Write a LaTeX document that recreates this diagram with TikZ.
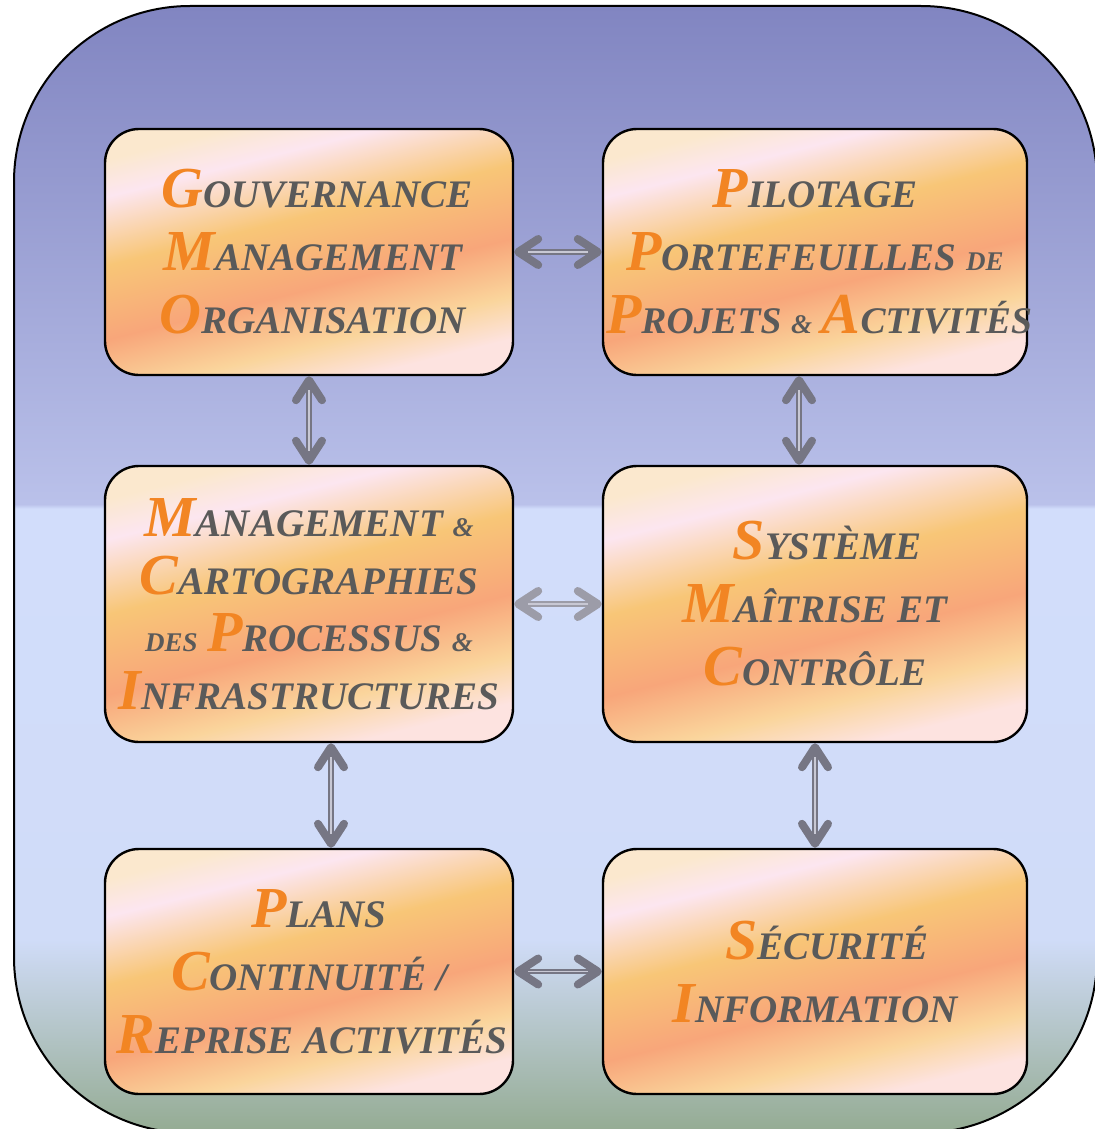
\documentclass[tikz,border=0pt]{standalone}
\usepackage{fontspec}
\setmainfont{Liberation Serif}
\usetikzlibrary{arrows.meta,calc}
\definecolor{corange}{HTML}{F28523}
\definecolor{cgray}{HTML}{5A5A5A}
\definecolor{oc1}{HTML}{94AB92}
\definecolor{oc2}{HTML}{D0DCF8}
\definecolor{oc3}{HTML}{D2DDFB}
\definecolor{oc4}{HTML}{BAC1EA}
\definecolor{oc5}{HTML}{8185C1}
\definecolor{bc1}{HTML}{FBE8CE}
\definecolor{bc2}{HTML}{FCE6F0}
\definecolor{bc3}{HTML}{F8C677}
\definecolor{bc4}{HTML}{F8A67A}
\definecolor{bc5}{HTML}{FAD59C}
\definecolor{bc6}{HTML}{FDE3E0}
\definecolor{agray}{HTML}{767684}
\definecolor{agrayl}{HTML}{9C9CA8}
\definecolor{alight}{HTML}{C8C8D4}
\pgfdeclareverticalshading{outershade}{100bp}{color(0bp)=(oc1); color(25bp)=(oc1); color(33.6bp)=(oc2); color(52.7bp)=(oc3); color(52.9bp)=(oc4); color(75bp)=(oc5); color(100bp)=(oc5)}
\pgfdeclareverticalshading{boxshade}{100bp}{color(0bp)=(bc6); color(26bp)=(bc6); color(33.5bp)=(bc5); color(43.5bp)=(bc4); color(56.5bp)=(bc3); color(68.5bp)=(bc2); color(75bp)=(bc1); color(100bp)=(bc1)}
\newcommand\Ini[1]{{\fontsize{29}{31.5}\selectfont\color{corange}#1}}
\newcommand\Sm[1]{{\fontsize{19.5}{31.5}\selectfont #1}}
\newcommand\Smb[1]{{\fontsize{18.8}{31.5}\selectfont #1}}
\newcommand\Tn[1]{{\fontsize{13.5}{31.5}\selectfont #1}}
\tikzset{
  box/.style={draw=black, line width=1.2pt, rounded corners=17pt, shade, shading=boxshade,
    shading angle=14, align=center, text=cgray, inner sep=0pt,
    font=\fontsize{19.5}{31.5}\selectfont\bfseries\itshape},
  tipb/.tip={Straight Barb[length=10pt,width=13pt,line width=4pt,round]},
  dbl/.style={draw=#1, line width=2.6pt, tipb-tipb,
    postaction={draw=alight, line width=0.8pt, arrows=-, shorten <=7pt, shorten >=7pt}},
  dbl/.default=agray
}
\begin{document}
\begin{tikzpicture}[x=0.5pt,y=-0.5pt]
\useasboundingbox (0,0) rectangle (1095,1129);
\draw[line width=1pt, rounded corners=88pt, shade, shading=outershade] (14,6) rectangle (1097,1133);

\node[box, minimum width=204pt, minimum height=123pt] (b1) at (309,252)
  {\hspace*{8pt}\Ini{G}\Sm{OUVERNANCE}\\ \hspace*{4pt}\Ini{M}\Sm{ANAGEMENT}\\ \hspace*{4pt}\Ini{O}\Sm{RGANISATION}};
\node[box, minimum width=212pt, minimum height=123pt] (b2) at (815,252)
  {\Ini{P}\Sm{ILOTAGE}\\ \Ini{P}\Sm{ORTEFEUILLES} \Tn{DE}\\ \makebox[200pt][c]{\hspace*{4pt}\Ini{P}\Smb{ROJETS} \Tn{\&} \Ini{A}\Smb{CTIVITÉS}}};
\node[box, minimum width=204pt, minimum height=138pt, font=\fontsize{19.5}{28.8}\selectfont\bfseries\itshape] (b3) at (309,604)
  {\Ini{M}\Sm{ANAGEMENT} \Tn{\&}\\ \Ini{C}\Sm{ARTOGRAPHIES}\\ \Tn{DES} \Ini{P}\Sm{ROCESSUS} \Tn{\&}\\ \Ini{I}\Sm{NFRASTRUCTURES}};
\node[box, minimum width=212pt, minimum height=138pt] (b4) at (815,604)
  {\hspace*{12pt}\Ini{S}\Sm{YSTÈME}\\ \Ini{M}\Sm{AÎTRISE ET}\\ \Ini{C}\Sm{ONTRÔLE}};
\node[box, minimum width=212pt, minimum height=122.5pt] (b6) at (815,971.5)
  {\hspace*{12pt}\Ini{S}\Sm{ÉCURITÉ}\\ \Ini{I}\Sm{NFORMATION}};
\node[box, minimum width=204pt, minimum height=122.5pt] (b5) at (309,971.5)
  {\hspace*{10pt}\Ini{P}\Sm{LANS}\\ \Ini{C}\Sm{ONTINUITÉ /}\\ \hspace*{3pt}\Ini{R}\Sm{EPRISE ACTIVITÉS}};

\draw[dbl] (b1.east) -- (b2.west);
\draw[dbl] (b1.south) -- (b3.north);
\draw[dbl] ($(b2.south)+(-16,0)$) -- ($(b4.north)+(-16,0)$);
\draw[dbl=agrayl] (b3.east) -- (b4.west);
\draw[dbl] ($(b3.south)+(22,0)$) -- ($(b5.north)+(22,0)$);
\draw[dbl] (b4.south) -- (b6.north);
\draw[dbl] (b5.east) -- (b6.west);
\end{tikzpicture}
\end{document}
